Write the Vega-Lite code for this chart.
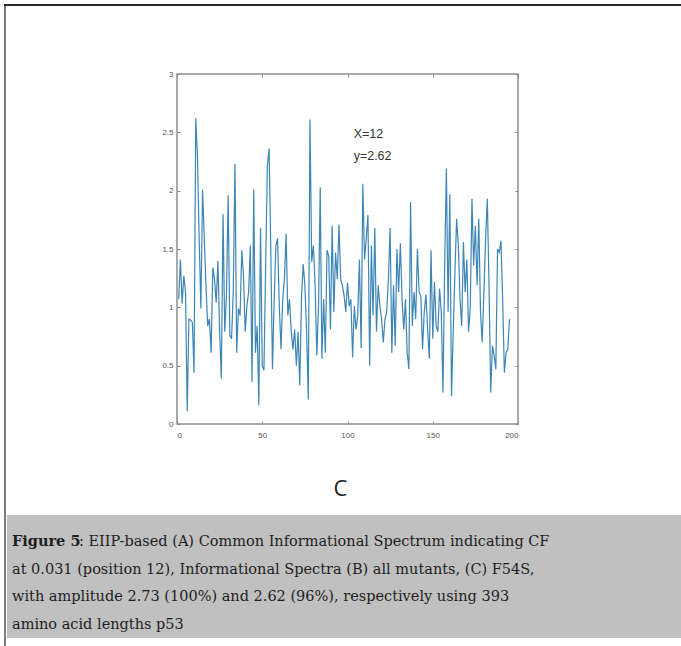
{
  "$schema": "https://vega.github.io/schema/vega-lite/v6.json",
  "padding": {"left": 4, "top": 4, "right": 0, "bottom": 0},
  "background": "white",
  "bounds": "flush",
  "spacing": 0,
  "config": {"view": {"stroke": null}},
  "vconcat": [
    {
      "width": 681, "height": 2,
      "view": {"fill": "#2a2a2a", "stroke": null},
      "data": {"values": []},
      "mark": "point"
    },
    {
      "hconcat": [
        {
          "width": 2, "height": 640,
          "view": {"fill": "#7d7d7d", "stroke": null},
          "data": {"values": []},
          "mark": "point"
        },
        {
          "vconcat": [
            {
              "width": 681, "height": 68,
              "data": {"values": []},
              "mark": "point"
            },
            {
              "width": 341, "height": 350,
              "view": {"stroke": "#8f8f8f", "strokeWidth": 1.5},
              "layer": [
                {
                  "data": {"values": [
                    {"x":1,"y":1.07},{"x":2,"y":1.41},{"x":3,"y":1.03},{"x":4,"y":1.27},{"x":5,"y":1.13},{"x":6,"y":0.11},{"x":7,"y":0.90},{"x":8,"y":0.89},{"x":9,"y":0.87},{"x":10,"y":0.44},
                    {"x":11,"y":2.62},{"x":12,"y":2.30},{"x":13,"y":1.59},{"x":14,"y":0.99},{"x":15,"y":2.01},{"x":16,"y":1.59},{"x":17,"y":1.19},{"x":18,"y":0.84},{"x":19,"y":0.90},{"x":20,"y":0.61},
                    {"x":21,"y":1.34},{"x":22,"y":1.24},{"x":23,"y":1.04},{"x":24,"y":1.40},{"x":25,"y":0.79},{"x":26,"y":0.39},{"x":27,"y":1.80},{"x":28,"y":0.79},{"x":29,"y":1.10},{"x":30,"y":1.96},
                    {"x":31,"y":0.76},{"x":32,"y":0.73},{"x":33,"y":1.13},{"x":34,"y":2.23},{"x":35,"y":0.61},{"x":36,"y":0.99},{"x":37,"y":0.93},{"x":38,"y":1.49},{"x":39,"y":1.27},{"x":40,"y":0.79},
                    {"x":41,"y":1.01},{"x":42,"y":1.13},{"x":43,"y":1.53},{"x":44,"y":0.36},{"x":45,"y":2.01},{"x":46,"y":0.61},{"x":47,"y":0.84},{"x":48,"y":0.16},{"x":49,"y":1.68},{"x":50,"y":0.50},
                    {"x":51,"y":0.46},{"x":52,"y":1.36},{"x":53,"y":2.21},{"x":54,"y":2.36},{"x":55,"y":1.50},{"x":56,"y":0.47},{"x":57,"y":1.07},{"x":58,"y":1.53},{"x":59,"y":1.59},{"x":60,"y":1.01},
                    {"x":61,"y":0.64},{"x":62,"y":1.07},{"x":63,"y":1.24},{"x":64,"y":1.63},{"x":65,"y":0.93},{"x":66,"y":1.07},{"x":67,"y":0.80},{"x":68,"y":0.64},{"x":69,"y":0.81},{"x":70,"y":0.50},
                    {"x":71,"y":0.79},{"x":72,"y":0.33},{"x":73,"y":1.07},{"x":74,"y":1.37},{"x":75,"y":1.19},{"x":76,"y":0.80},{"x":77,"y":0.21},{"x":78,"y":2.61},{"x":79,"y":1.39},{"x":80,"y":1.53},
                    {"x":81,"y":1.19},{"x":82,"y":0.59},{"x":83,"y":1.01},{"x":84,"y":2.03},{"x":85,"y":0.56},{"x":86,"y":1.07},{"x":87,"y":0.61},{"x":88,"y":1.49},{"x":89,"y":1.44},{"x":90,"y":0.81},
                    {"x":91,"y":1.70},{"x":92,"y":0.96},{"x":93,"y":1.47},{"x":94,"y":1.24},{"x":95,"y":1.71},{"x":96,"y":1.24},{"x":97,"y":1.19},{"x":98,"y":1.10},{"x":99,"y":0.96},{"x":100,"y":1.21},
                    {"x":101,"y":1.01},{"x":102,"y":1.07},{"x":103,"y":0.57},{"x":104,"y":1.01},{"x":105,"y":0.81},{"x":106,"y":0.93},{"x":107,"y":1.41},{"x":108,"y":0.65},{"x":109,"y":2.06},{"x":110,"y":1.41},
                    {"x":111,"y":1.59},{"x":112,"y":1.79},{"x":113,"y":0.50},{"x":114,"y":1.53},{"x":115,"y":0.93},{"x":116,"y":1.68},{"x":117,"y":0.79},{"x":118,"y":1.19},{"x":119,"y":1.01},{"x":120,"y":0.90},
                    {"x":121,"y":0.70},{"x":122,"y":0.90},{"x":123,"y":0.96},{"x":124,"y":1.25},{"x":125,"y":1.68},{"x":126,"y":0.61},{"x":127,"y":1.19},{"x":128,"y":0.67},{"x":129,"y":1.50},{"x":130,"y":1.13},
                    {"x":131,"y":1.55},{"x":132,"y":1.07},{"x":133,"y":0.81},{"x":134,"y":1.07},{"x":135,"y":0.61},{"x":136,"y":0.47},{"x":137,"y":1.90},{"x":138,"y":0.84},{"x":139,"y":1.13},{"x":140,"y":0.90},
                    {"x":141,"y":1.50},{"x":142,"y":1.13},{"x":143,"y":1.10},{"x":144,"y":0.64},{"x":145,"y":0.96},{"x":146,"y":1.11},{"x":147,"y":0.81},{"x":148,"y":0.56},{"x":149,"y":1.49},{"x":150,"y":0.73},
                    {"x":151,"y":1.22},{"x":152,"y":0.84},{"x":153,"y":0.79},{"x":154,"y":1.16},{"x":155,"y":0.96},{"x":156,"y":0.27},{"x":157,"y":1.36},{"x":158,"y":2.19},{"x":159,"y":0.96},{"x":160,"y":1.97},
                    {"x":161,"y":0.24},{"x":162,"y":0.79},{"x":163,"y":1.30},{"x":164,"y":1.76},{"x":165,"y":1.53},{"x":166,"y":1.07},{"x":167,"y":0.84},{"x":168,"y":1.56},{"x":169,"y":1.13},{"x":170,"y":1.41},
                    {"x":171,"y":0.79},{"x":172,"y":0.99},{"x":173,"y":1.93},{"x":174,"y":1.36},{"x":175,"y":1.70},{"x":176,"y":1.19},{"x":177,"y":1.76},{"x":178,"y":0.96},{"x":179,"y":0.70},{"x":180,"y":1.13},
                    {"x":181,"y":1.59},{"x":182,"y":1.93},{"x":183,"y":1.19},{"x":184,"y":0.27},{"x":185,"y":0.67},{"x":186,"y":0.59},{"x":187,"y":0.47},{"x":188,"y":1.50},{"x":189,"y":1.47},{"x":190,"y":1.57},
                    {"x":191,"y":1.07},{"x":192,"y":0.44},{"x":193,"y":0.61},{"x":194,"y":0.64},{"x":195,"y":0.90}
                  ]},
                  "mark": {"type": "line", "color": "#3d85b5", "strokeWidth": 1.2},
                  "encoding": {
                    "x": {"field": "x", "type": "quantitative",
                      "scale": {"domain": [0, 200], "nice": false, "zero": false},
                      "axis": {"values": [0, 50, 100, 150, 200], "title": null, "domain": false, "grid": false,
                        "tickSize": -3, "tickColor": "#888888", "labelFontSize": 8, "labelColor": "#555555",
                        "labelFont": "Liberation Sans", "labelPadding": 10}},
                    "y": {"field": "y", "type": "quantitative",
                      "scale": {"domain": [0, 3], "nice": false},
                      "axis": {"values": [0, 0.5, 1, 1.5, 2, 2.5, 3], "format": "~g", "title": null, "domain": false, "grid": false,
                        "tickSize": -3, "tickColor": "#888888", "labelFontSize": 8, "labelColor": "#555555",
                        "labelFont": "Liberation Sans", "labelPadding": 7}}
                  }
                },
                {
                  "data": {"values": [
                    {"ax": 103.6, "ay": 2.49, "label": "X=12"},
                    {"ax": 103.6, "ay": 2.30, "label": "y=2.62"}
                  ]},
                  "mark": {"type": "text", "align": "left", "baseline": "middle", "font": "Liberation Sans", "fontSize": 12.5, "color": "#333333"},
                  "encoding": {
                    "x": {"field": "ax", "type": "quantitative",
                      "axis": {"orient": "top", "values": [0, 50, 100, 150, 200], "labels": false, "title": null, "domain": false, "grid": false, "tickSize": -3, "tickColor": "#888888"}},
                    "y": {"field": "ay", "type": "quantitative",
                      "axis": {"orient": "right", "values": [0, 0.5, 1, 1.5, 2, 2.5, 3], "labels": false, "title": null, "domain": false, "grid": false, "tickSize": -3, "tickColor": "#888888"}},
                    "text": {"field": "label"}
                  }
                }
              ],
              "resolve": {"axis": {"x": "independent", "y": "independent"}}
            },
            {
              "width": 681, "height": 91,
              "data": {"values": []},
              "mark": "point"
            },
            {
              "width": 681, "height": 123,
              "view": {"fill": "#c0c0c0", "stroke": null},
              "title": {"text": "C", "orient": "top", "anchor": "middle", "fontSize": 22, "font": "Open Sans", "fontWeight": "normal", "color": "#222222", "offset": 14, "dx": -7},
              "data": {"values": [
                {"line": 1, "part": "b", "t": "Figure 5"},
                {"line": 1, "part": "r", "t": ": EIIP-based (A) Common Informational Spectrum indicating CF"},
                {"line": 2, "part": "n", "t": "at 0.031 (position 12), Informational Spectra (B) all mutants, (C) F54S,"},
                {"line": 3, "part": "n", "t": "with amplitude 2.73 (100%) and 2.62 (96%), respectively using 393"},
                {"line": 4, "part": "n", "t": "amino acid lengths p53"}
              ]},
              "encoding": {
                "y": {"field": "line", "type": "ordinal", "scale": {"type": "point", "range": [27, 110], "padding": 0}, "axis": null},
                "text": {"field": "t"}
              },
              "layer": [
                {
                  "transform": [{"filter": "datum.part === 'b'"}],
                  "mark": {"type": "text", "align": "left", "baseline": "middle", "x": 5, "font": "DejaVu Serif", "fontSize": 14.5, "fontWeight": "bold", "color": "#1e1e1e"}
                },
                {
                  "transform": [{"filter": "datum.part === 'r'"}],
                  "mark": {"type": "text", "align": "left", "baseline": "middle", "x": 5, "dx": 67, "font": "DejaVu Serif", "fontSize": 14.5, "color": "#1e1e1e"}
                },
                {
                  "transform": [{"filter": "datum.part === 'n'"}],
                  "mark": {"type": "text", "align": "left", "baseline": "middle", "x": 5, "font": "DejaVu Serif", "fontSize": 14.5, "color": "#1e1e1e"}
                }
              ]
            }
          ],
          "spacing": 0,
          "bounds": "flush",
          "center": true
        }
      ],
      "spacing": 1,
      "bounds": "flush"
    }
  ]
}
